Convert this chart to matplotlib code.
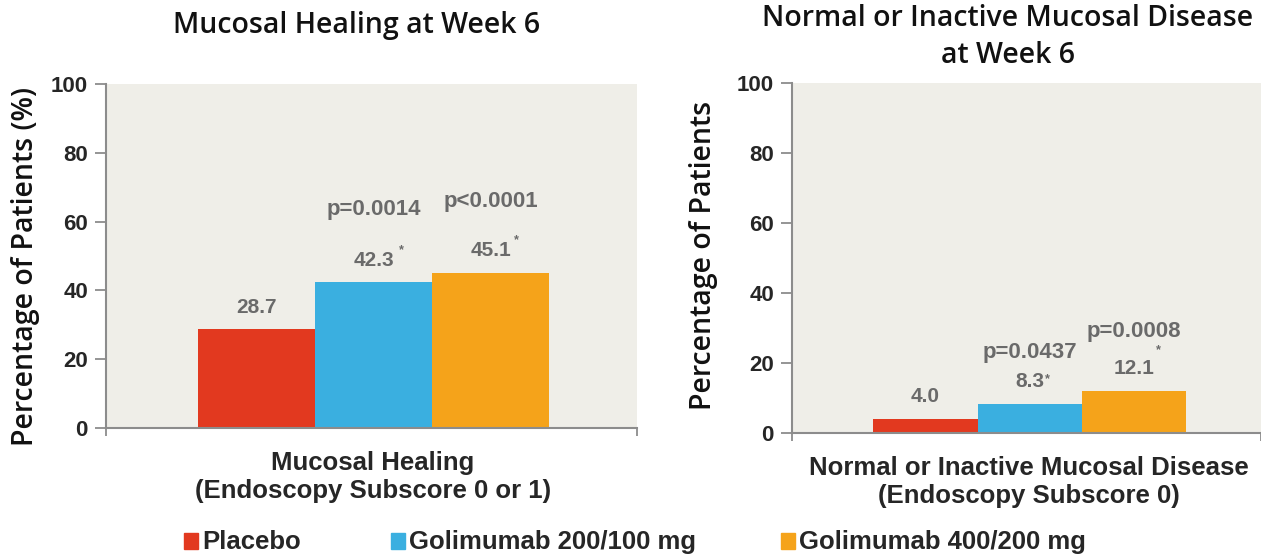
import matplotlib
matplotlib.use('Agg')
import matplotlib.pyplot as plt
from matplotlib.patches import Rectangle

# treatment groups and their bar colours
groups = ['Placebo', 'Golimumab 200/100 mg', 'Golimumab 400/200 mg']
colors = ['#E2391F', '#3AAFE0', '#F5A31A']

# percentage of patients per endpoint
healing = [28.7, 42.3, 45.1]
healing_p = [None, 'p=0.0014', 'p<0.0001']
healing_star = [False, True, True]

normal = [4.0, 8.3, 12.1]
normal_p = [None, 'p=0.0437', 'p=0.0008']
normal_star = [False, True, True]

yticks = [0, 20, 40, 60, 80, 100]

plt.rcParams['font.family'] = ['Liberation Sans', 'DejaVu Sans']

W, H = 1261, 556
fig = plt.figure(figsize=(W / 100, H / 100), dpi=100)


def fx(px):
    return px / W


def fy(py):
    return 1 - py / H


BG = '#EFEEE8'
AXIS = '#8C8C8C'
VALUE = '#6A6A6A'
DARK = '#262626'
HEAD = 'Open Sans'


def panel(ax, values, pvals, stars, xlim, p_off, star_off):
    x = [-1, 0, 1]
    ax.bar(x, values, width=1.0, color=colors, zorder=2)
    ax.set_facecolor(BG)
    ax.set_xlim(*xlim)
    ax.set_ylim(0, 100)
    ax.set_yticks(yticks)
    ax.set_xticks(list(xlim))
    ax.set_xticklabels([])
    for s in ['top', 'right']:
        ax.spines[s].set_visible(False)
    for s in ['left', 'bottom']:
        ax.spines[s].set_color(AXIS)
        ax.spines[s].set_linewidth(1.5)
    ax.tick_params(axis='y', length=8, width=1.3, color=AXIS,
                   labelsize=16, labelcolor=DARK, pad=5)
    ax.tick_params(axis='x', length=6, width=1.3, color=AXIS)
    for lbl in ax.get_yticklabels():
        lbl.set_fontweight('bold')

    for i, (xi, v) in enumerate(zip(x, values)):
        ax.annotate(f'{v:.1f}', (xi, v), xytext=(0, 22), textcoords='offset pixels',
                    ha='center', va='center', fontsize=15, fontweight='bold', color=VALUE)
        if stars[i]:
            dx, dy = star_off[i]
            ax.annotate('*', (xi, v), xytext=(dx, dy), textcoords='offset pixels',
                        ha='center', va='center', fontsize=9, fontweight='bold', color=VALUE)
        if pvals[i]:
            ax.annotate(pvals[i], (xi, v), xytext=(0, p_off[i]), textcoords='offset pixels',
                        ha='center', va='center', fontsize=16, fontweight='bold', color=VALUE)


ax1 = fig.add_axes([fx(106), fy(428), fx(637 - 106), (428 - 84) / H])
panel(ax1, healing, healing_p, healing_star, (-2.29, 2.25),
      [0, 73, 71], [None, (28, 32), (26, 33)])

ax2 = fig.add_axes([fx(792), fy(433), fx(1261 - 792), (433 - 83) / H])
panel(ax2, normal, normal_p, normal_star, (-2.28, 2.22),
      [0, 51, 59], [None, (18, 25), (25, 40)])

# titles
fig.text(fx(357), fy(25), 'Mucosal Healing at Week 6', ha='center', va='center',
         family=HEAD, fontweight='semibold', fontsize=20.5, color='#111111')
fig.text(fx(1008), fy(37), 'Normal or Inactive Mucosal Disease\nat Week 6', ha='center',
         va='center', family=HEAD, fontweight='semibold', fontsize=20.5, color='#111111',
         linespacing=1.4)

# y-axis labels
fig.text(fx(26), fy(267), 'Percentage of Patients (%)', rotation=90, ha='center',
         va='center', family=HEAD, fontweight='semibold', fontsize=20.5, color='#111111')
fig.text(fx(704), fy(255), 'Percentage of Patients', rotation=90, ha='center',
         va='center', family=HEAD, fontweight='semibold', fontsize=20.5, color='#111111')

# x-axis category labels
fig.text(fx(373), fy(477), 'Mucosal Healing\n(Endoscopy Subscore 0 or 1)', ha='center',
         va='center', fontsize=18.5, fontweight='bold', color=DARK, linespacing=1.2)
fig.text(fx(1029), fy(482), 'Normal or Inactive Mucosal Disease\n(Endoscopy Subscore 0)',
         ha='center', va='center', fontsize=18.5, fontweight='bold', color=DARK, linespacing=1.2)

# legend along the bottom
legend_x = [184, 391, 781]
for gx, name, c in zip(legend_x, groups, colors):
    fig.add_artist(Rectangle((fx(gx), fy(549)), fx(14), 16 / H, color=c,
                             transform=fig.transFigure))
    fig.text(fx(gx + 18), fy(542), name, ha='left', va='center', fontsize=18.5,
             fontweight='bold', color=DARK)

fig.savefig('out.png', dpi=100, facecolor='white')
